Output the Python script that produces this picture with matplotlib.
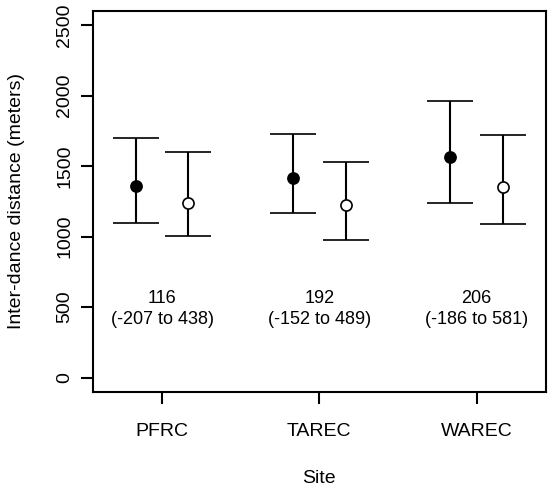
import matplotlib

matplotlib.use("Agg")

import matplotlib.pyplot as plt
import numpy as np

SITES = ["PFRC", "TAREC", "WAREC"]

# filled circles
FILLED_MEAN = [1358, 1413, 1562]
FILLED_LO = [1099, 1165, 1240]
FILLED_HI = [1697, 1729, 1961]

# open circles
OPEN_MEAN = [1240, 1222, 1354]
OPEN_LO = [1004, 976, 1089]
OPEN_HI = [1600, 1529, 1722]

DIFF = [116, 192, 206]
DIFF_LO = [-207, -152, -186]
DIFF_HI = [438, 489, 581]

Y_TICKS = [0, 500, 1000, 1500, 2000, 2500]

plt.rcParams.update(
    {
        "font.family": ["Liberation Sans", "DejaVu Sans"],
        "axes.linewidth": 1.5,
        "xtick.major.width": 1.5,
        "ytick.major.width": 1.5,
        "xtick.major.size": 8.4,
        "ytick.major.size": 8.4,
    }
)

fig = plt.figure(figsize=(5.51, 4.90), dpi=100)
ax = fig.add_axes([0.1688, 0.2006, 0.9904 - 0.1688, 0.9776 - 0.2006])

x = np.arange(1, len(SITES) + 1)
off = 0.167


def draw(xpos, mean, lo, hi, face):
    mean = np.asarray(mean)
    yerr = [mean - np.asarray(lo), np.asarray(hi) - mean]
    ax.errorbar(
        xpos, mean, yerr=yerr, fmt="o", color="black", ecolor="black",
        elinewidth=1.5, capsize=16.8, capthick=1.5,
        markersize=8, markerfacecolor=face, markeredgecolor="black",
        markeredgewidth=1.2, zorder=3,
    )


draw(x - off, FILLED_MEAN, FILLED_LO, FILLED_HI, "black")
draw(x + off, OPEN_MEAN, OPEN_LO, OPEN_HI, "white")

for xi, d, lo, hi in zip(x, DIFF, DIFF_LO, DIFF_HI):
    ax.text(xi, 489, f"{d}\n({lo} to {hi})", ha="center", va="center",
            fontsize=13, linespacing=1.3)

ax.set_xlim(0.56, 3.44)
ax.set_ylim(-100, 2600)
ax.set_xticks(x)
ax.set_xticklabels(SITES)
ax.set_yticks(Y_TICKS)
ax.set_yticklabels([str(v) for v in Y_TICKS], rotation=90, va="center")
ax.tick_params(axis="x", labelsize=14, pad=14)
ax.tick_params(axis="y", labelsize=14, pad=6)
ax.set_xlabel("Site", fontsize=14, labelpad=22)
ax.set_ylabel("Inter-dance distance (meters)", fontsize=14, labelpad=22)

fig.savefig("out.png", dpi=100, facecolor="white")
